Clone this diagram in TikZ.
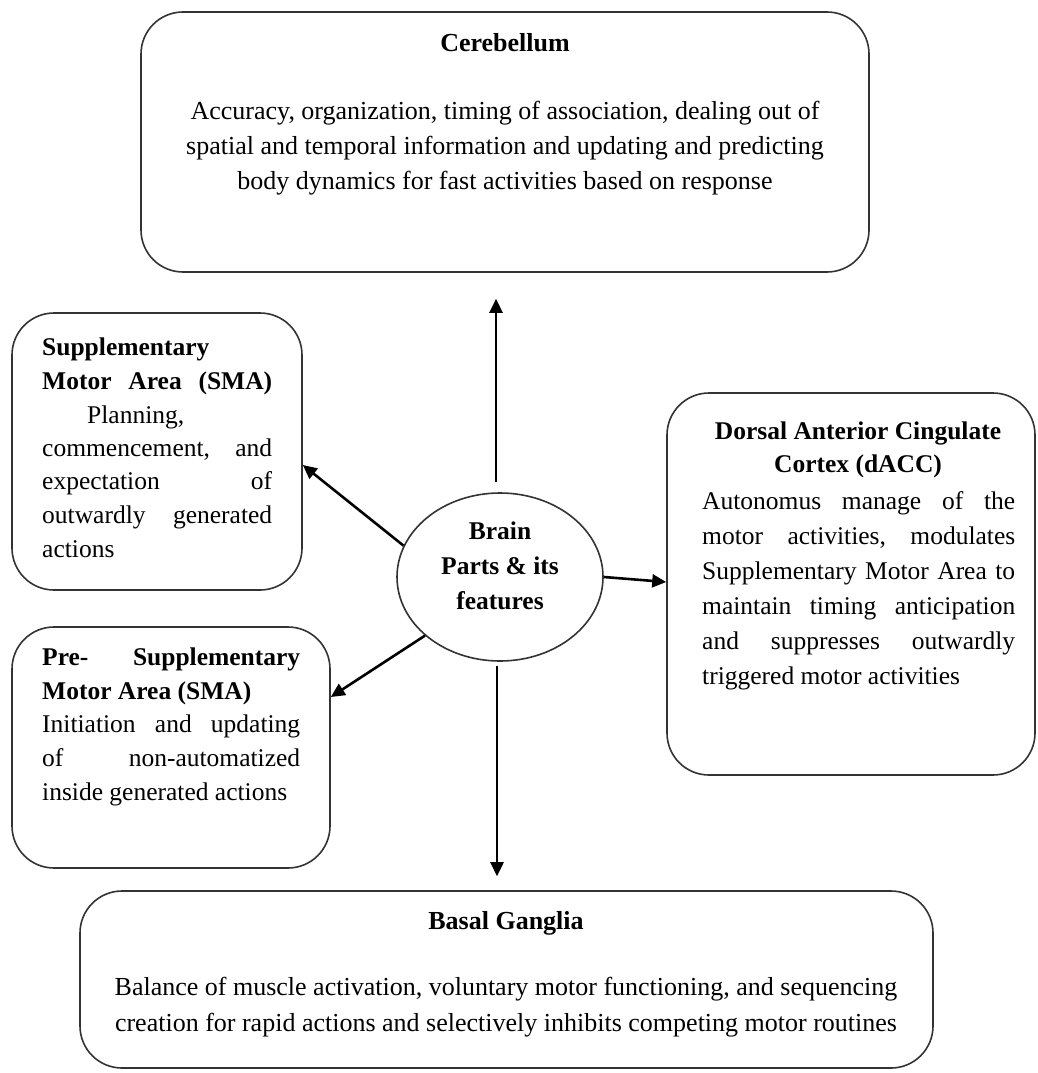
\documentclass[tikz,border=0pt]{standalone}
\usepackage{fontspec}
\setmainfont{Liberation Serif}
\usetikzlibrary{arrows.meta,shapes.geometric,calc}
\begin{document}
\begin{tikzpicture}[x=1pt,y=-1pt,
  font=\fontsize{25.5}{34}\selectfont,
  box/.style={draw=black!80, line width=1.6pt, rounded corners=42pt, rectangle, inner sep=0pt},
  arr/.style={line width=2.6pt, -{Triangle[length=14pt,width=13pt]}},
  ln/.style={inner sep=0pt, anchor=mid west},
  cl/.style={inner sep=0pt, anchor=mid},
  big/.style={font=\fontsize{26}{35}\selectfont}]
\useasboundingbox (0,0) rectangle (1038,1073);

% boxes
\node[box, minimum width=728pt, minimum height=260pt] (cereb) at (505,142) {};
\node[box, minimum width=290pt, minimum height=277pt] (sma) at (157,451.5) {};
\node[box, minimum width=318pt, minimum height=241pt] (pre) at (171,747.5) {};
\node[box, minimum width=368pt, minimum height=382pt] (dacc) at (851,584) {};
\node[box, minimum width=853pt, minimum height=177pt] (basal) at (506.5,979.5) {};
\node[draw=black!80, line width=1.6pt, ellipse, minimum width=206pt, minimum height=168pt, inner sep=0pt] (brain) at (500,577) {};

% arrow end points
\coordinate (utail) at ([xshift=-4pt]brain.north);
\coordinate (uhead) at ([yshift=-26pt]cereb.south);
\coordinate (dtail) at ([xshift=-3pt]brain.south);
\coordinate (dhead) at ([yshift=14pt]basal.north);

% arrows
\draw[arr, shorten <=10pt] (utail) -- (utail |- uhead);
\draw[arr, shorten <=4pt] (dtail) -- (dtail |- dhead);
\draw[arr] (brain.162) -- ([yshift=-13.5pt]sma.east);
\draw[arr] (brain.218) -- ([yshift=50.5pt]pre.east);
\draw[arr] (brain.east) -- ([yshift=2pt]dacc.west);

% Cerebellum text
\node[cl,big] (ct) at (505,49) {\textbf{Cerebellum}};
\node[cl,big] (c1) at (505,117) {Accuracy, organization, timing of association, dealing out of};
\node[cl,big] (c2) at (505,152) {spatial and temporal information and updating and predicting};
\node[cl,big] (c3) at (505,187) {body dynamics for fast activities based on response};

% SMA text
\node[ln] (s1) at (42,353) {\textbf{Supplementary}};
\node[ln] (s2) at (42,387) {\hbox to 230pt{\textbf{Motor}\hfill\textbf{Area}\hfill\textbf{(SMA)}}};
\node[ln] (s3) at (87,421) {Planning,};
\node[ln] (s4) at (42,454) {\hbox to 230pt{commencement,\hfill and}};
\node[ln] (s5) at (42,487) {\hbox to 230pt{expectation\hfill of}};
\node[ln] (s6) at (42,521) {\hbox to 230pt{outwardly\hfill generated}};
\node[ln] (s7) at (42,555) {actions};

% Pre-SMA text
\node[ln] (p1) at (42,663) {\hbox to 258pt{\textbf{Pre-}\hfill\textbf{Supplementary}}};
\node[ln] (p2) at (42,697) {\textbf{Motor Area (SMA)}};
\node[ln] (p3) at (42,730) {\hbox to 258pt{Initiation\hfill and\hfill updating}};
\node[ln] (p4) at (42,764) {\hbox to 258pt{of\hfill non-automatized}};
\node[ln] (p5) at (42,798) {inside generated actions};

% dACC text
\node[cl] (d1) at (858,437) {\textbf{Dorsal Anterior Cingulate}};
\node[cl] (d2) at (858,470) {\textbf{Cortex (dACC)}};
\node[ln] (d3) at (702,507) {\hbox to 313pt{Autonomus\hfill manage\hfill of\hfill the}};
\node[ln] (d4) at (702,542) {\hbox to 313pt{motor\hfill activities,\hfill modulates}};
\node[ln] (d5) at (702,577) {\hbox to 313pt{Supplementary\hfill Motor\hfill Area\hfill to}};
\node[ln] (d6) at (702,612) {\hbox to 313pt{maintain\hfill timing\hfill anticipation}};
\node[ln] (d7) at (702,647) {\hbox to 313pt{and\hfill suppresses\hfill outwardly}};
\node[ln] (d8) at (702,682) {triggered motor activities};

% Brain text
\node[cl] (b1) at (500,537) {\textbf{Brain}};
\node[cl] (b2) at (500,572) {\textbf{Parts \& its}};
\node[cl] (b3) at (500,607) {\textbf{features}};

% Basal Ganglia text
\node[cl,big] (gt) at (506,927) {\textbf{Basal Ganglia}};
\node[cl,big] (g1) at (506,993) {Balance of muscle activation, voluntary motor functioning, and sequencing};
\node[cl,big] (g2) at (506,1029) {creation for rapid actions and selectively inhibits competing motor routines};
\end{tikzpicture}
\end{document}
